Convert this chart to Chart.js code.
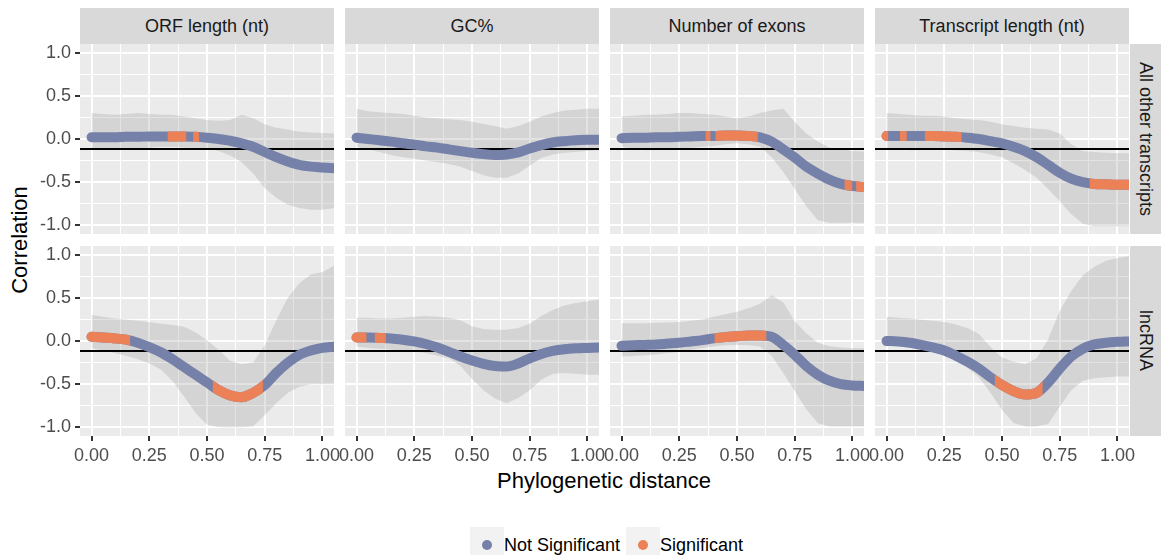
<!DOCTYPE html>
<html>
<head>
<meta charset="utf-8">
<script src="https://cdn.jsdelivr.net/npm/chart.js@4.4.0/dist/chart.umd.min.js"></script>
<style>
  body { margin: 0; width: 1162px; height: 555px; position: relative; overflow: hidden; background: #fff;
         font-family: "Liberation Sans", Arial, Helvetica, sans-serif; }
  canvas { position: absolute; }
  .strip { position: absolute; background: #d9d9d9; color: #1a1a1a; font-size: 18px;
           display: flex; align-items: center; justify-content: center; white-space: nowrap; }
  .strip.side span { writing-mode: vertical-rl; }
  .title { position: absolute; font-size: 22px; color: #000; white-space: nowrap; transform: translate(-50%, -50%); }
  #ytitle { transform: translate(-50%, -50%) rotate(-90deg); }
  .key { position: absolute; top: 527px; width: 34px; height: 35px; background: #f2f2f2; }
  .key i { position: absolute; left: 12px; top: 13px; width: 10px; height: 10px; border-radius: 50%; }
  .lab { position: absolute; top: 535px; font-size: 18px; color: #000; white-space: nowrap; }
</style>
</head>
<body>
<div id="ytitle" class="title" style="left:20px;top:240px">Correlation</div>
<div id="xtitle" class="title" style="left:604px;top:481px">Phylogenetic distance</div>

<script>
/* ── DATA ───────────────────────────────────────────────────── */
const features = ['ORF length (nt)', 'GC%', 'Number of exons', 'Transcript length (nt)'];
const groups   = ['All other transcripts', 'lncRNA'];
const legendLabels = ['Not Significant', 'Significant'];

const distance = [0, 0.05, 0.1, 0.15, 0.2, 0.25, 0.3, 0.35, 0.4, 0.45, 0.5, 0.55,
                  0.6, 0.65, 0.7, 0.75, 0.8, 0.85, 0.9, 0.95, 1, 1.05];

const xTicks      = [0, 0.25, 0.5, 0.75, 1];
const xTickLabels = ['0.00', '0.25', '0.50', '0.75', '1.00'];
const xMinor      = [0.125, 0.375, 0.625, 0.875];
const yTicks      = [-1, -0.5, 0, 0.5, 1];
const yTickLabels = ['-1.0', '-0.5', '0.0', '0.5', '1.0'];
const yMinor      = [-0.75, -0.25, 0.25, 0.75];
const xRange = [-0.05, 1.05];
const yRange = [-1.1, 1.1];
const refLine = -0.115;

// All other transcripts
const orfOtherFit = [0.02, 0.02, 0.02, 0.025, 0.025, 0.03, 0.03, 0.03, 0.03, 0.025, 0.015, 0.0, -0.02, -0.05, -0.09, -0.15, -0.21, -0.26, -0.30, -0.32, -0.33, -0.34];
const orfOtherHi  = [0.30, 0.29, 0.28, 0.29, 0.30, 0.29, 0.28, 0.28, 0.26, 0.24, 0.22, 0.21, 0.22, 0.28, 0.24, 0.17, 0.13, 0.11, 0.085, 0.075, 0.07, 0.065];
const orfOtherLo  = [-0.11, -0.12, -0.13, -0.12, -0.11, -0.10, -0.09, -0.09, -0.10, -0.10, -0.11, -0.14, -0.19, -0.27, -0.40, -0.57, -0.68, -0.76, -0.80, -0.82, -0.82, -0.80];
const orfOtherSig = [[0.33, 0.41], [0.44, 0.465]];

const gcOtherFit = [0.015, 0.0, -0.015, -0.03, -0.05, -0.065, -0.085, -0.10, -0.12, -0.14, -0.16, -0.175, -0.185, -0.18, -0.155, -0.11, -0.07, -0.04, -0.025, -0.015, -0.01, -0.01];
const gcOtherHi  = [0.35, 0.32, 0.31, 0.30, 0.29, 0.27, 0.25, 0.24, 0.23, 0.22, 0.20, 0.175, 0.15, 0.12, 0.15, 0.20, 0.26, 0.30, 0.33, 0.34, 0.35, 0.35];
const gcOtherLo  = [-0.09, -0.12, -0.15, -0.185, -0.21, -0.23, -0.25, -0.27, -0.29, -0.32, -0.37, -0.42, -0.45, -0.45, -0.40, -0.31, -0.22, -0.18, -0.16, -0.15, -0.14, -0.13];
const gcOtherSig = [];

const exonsOtherFit = [0.01, 0.015, 0.015, 0.02, 0.02, 0.025, 0.03, 0.035, 0.035, 0.04, 0.04, 0.035, 0.02, -0.03, -0.12, -0.215, -0.32, -0.40, -0.47, -0.52, -0.545, -0.555];
const exonsOtherHi  = [0.26, 0.27, 0.28, 0.28, 0.29, 0.30, 0.30, 0.29, 0.28, 0.26, 0.24, 0.26, 0.30, 0.33, 0.35, 0.20, 0.065, -0.03, -0.10, -0.12, -0.14, -0.145];
const exonsOtherLo  = [-0.09, -0.11, -0.13, -0.13, -0.12, -0.11, -0.10, -0.09, -0.08, -0.06, -0.05, -0.06, -0.09, -0.21, -0.38, -0.58, -0.78, -0.94, -0.97, -0.97, -0.97, -0.97];
const exonsOtherSig = [[0.364, 0.385], [0.407, 0.59], [0.966, 0.999], [1.016, 1.05]];

const lengthOtherFit = [0.035, 0.035, 0.035, 0.035, 0.035, 0.03, 0.025, 0.015, 0.0, -0.025, -0.05, -0.09, -0.14, -0.21, -0.30, -0.39, -0.46, -0.50, -0.52, -0.525, -0.53, -0.53];
const lengthOtherHi  = [0.30, 0.29, 0.28, 0.27, 0.27, 0.26, 0.24, 0.23, 0.22, 0.20, 0.17, 0.15, 0.13, 0.12, 0.11, 0.065, -0.06, -0.14, -0.15, -0.16, -0.165, -0.165];
const lengthOtherLo  = [-0.11, -0.12, -0.13, -0.13, -0.12, -0.12, -0.13, -0.14, -0.15, -0.18, -0.21, -0.28, -0.36, -0.45, -0.58, -0.72, -0.87, -0.98, -1.01, -1.01, -1.01, -1.01];
const lengthOtherSig = [[-0.05, 0.007], [0.058, 0.087], [0.166, 0.325], [0.88, 1.05]];

// lncRNA
const orfLncFit = [0.05, 0.04, 0.03, 0.015, -0.02, -0.07, -0.13, -0.21, -0.30, -0.39, -0.48, -0.57, -0.63, -0.65, -0.60, -0.51, -0.37, -0.25, -0.16, -0.11, -0.08, -0.065];
const orfLncHi  = [0.30, 0.28, 0.26, 0.25, 0.235, 0.22, 0.20, 0.185, 0.165, 0.10, 0.01, -0.10, -0.23, -0.27, -0.25, -0.05, 0.24, 0.50, 0.67, 0.77, 0.80, 0.87];
const orfLncLo  = [-0.085, -0.11, -0.14, -0.17, -0.21, -0.26, -0.33, -0.46, -0.64, -0.83, -0.97, -1.0, -1.0, -1.0, -0.99, -0.86, -0.72, -0.60, -0.53, -0.50, -0.50, -0.50];
const orfLncSig = [[-0.05, 0.167], [0.525, 0.742]];

const gcLncFit = [0.04, 0.04, 0.035, 0.03, 0.015, -0.005, -0.035, -0.075, -0.125, -0.18, -0.225, -0.265, -0.29, -0.295, -0.26, -0.20, -0.15, -0.115, -0.095, -0.085, -0.08, -0.075];
const gcLncHi  = [0.27, 0.27, 0.26, 0.26, 0.27, 0.28, 0.29, 0.28, 0.27, 0.24, 0.17, 0.14, 0.13, 0.13, 0.15, 0.20, 0.29, 0.36, 0.41, 0.44, 0.46, 0.48];
const gcLncLo  = [-0.065, -0.08, -0.09, -0.10, -0.11, -0.12, -0.14, -0.17, -0.20, -0.29, -0.44, -0.57, -0.67, -0.72, -0.66, -0.57, -0.45, -0.38, -0.37, -0.38, -0.39, -0.39];
const gcLncSig = [[-0.05, 0.043], [0.079, 0.127]];

const exonsLncFit = [-0.055, -0.05, -0.045, -0.04, -0.03, -0.02, -0.005, 0.01, 0.03, 0.045, 0.055, 0.065, 0.065, 0.05, -0.045, -0.16, -0.29, -0.39, -0.46, -0.50, -0.515, -0.52];
const exonsLncHi  = [0.205, 0.205, 0.205, 0.21, 0.215, 0.22, 0.235, 0.25, 0.28, 0.31, 0.34, 0.38, 0.43, 0.53, 0.45, 0.23, 0.09, -0.02, -0.06, -0.075, -0.085, -0.085];
const exonsLncLo  = [-0.18, -0.175, -0.165, -0.155, -0.14, -0.125, -0.10, -0.08, -0.065, -0.05, -0.045, -0.05, -0.065, -0.17, -0.37, -0.58, -0.79, -0.95, -0.99, -0.99, -0.99, -0.99];
const exonsLncSig = [[0.403, 0.627]];

const lengthLncFit = [0.0, -0.005, -0.02, -0.045, -0.075, -0.11, -0.17, -0.24, -0.32, -0.42, -0.51, -0.58, -0.62, -0.60, -0.48, -0.32, -0.18, -0.09, -0.04, -0.02, -0.01, -0.005];
const lengthLncHi  = [0.28, 0.27, 0.26, 0.245, 0.235, 0.22, 0.19, 0.15, 0.08, -0.07, -0.19, -0.24, -0.27, -0.20, 0.02, 0.35, 0.58, 0.76, 0.86, 0.93, 0.96, 0.98];
const lengthLncLo  = [-0.045, -0.055, -0.065, -0.10, -0.13, -0.16, -0.22, -0.31, -0.42, -0.60, -0.80, -0.95, -0.99, -0.99, -0.96, -0.76, -0.57, -0.46, -0.43, -0.42, -0.41, -0.41];
const lengthLncSig = [[0.469, 0.676]];

/* ── LAYOUT & STYLE ─────────────────────────────────────────── */
const FONT = '"Liberation Sans", Arial, Helvetica, sans-serif';
const NS_COL  = '#7581a9';
const SIG_COL = '#ec8158';
const RIBBON  = 'rgba(153,153,153,0.27)';
const PANEL_LEFT = [80, 345, 610, 875];
const PANEL_TOP  = [44, 246];
const PANEL_W = 254, PANEL_H = 190;

const panels = [
  { row: 0, col: 0, fit: orfOtherFit,    hi: orfOtherHi,    lo: orfOtherLo,    sig: orfOtherSig },
  { row: 0, col: 1, fit: gcOtherFit,     hi: gcOtherHi,     lo: gcOtherLo,     sig: gcOtherSig },
  { row: 0, col: 2, fit: exonsOtherFit,  hi: exonsOtherHi,  lo: exonsOtherLo,  sig: exonsOtherSig },
  { row: 0, col: 3, fit: lengthOtherFit, hi: lengthOtherHi, lo: lengthOtherLo, sig: lengthOtherSig },
  { row: 1, col: 0, fit: orfLncFit,      hi: orfLncHi,      lo: orfLncLo,      sig: orfLncSig },
  { row: 1, col: 1, fit: gcLncFit,       hi: gcLncHi,       lo: gcLncLo,       sig: gcLncSig },
  { row: 1, col: 2, fit: exonsLncFit,    hi: exonsLncHi,    lo: exonsLncLo,    sig: exonsLncSig },
  { row: 1, col: 3, fit: lengthLncFit,   hi: lengthLncHi,   lo: lengthLncLo,   sig: lengthLncSig },
];

/* ── PLUGINS ────────────────────────────────────────────────── */
const panelBg = {
  id: 'panelBg',
  beforeDraw(chart) {
    const { ctx, chartArea: a } = chart;
    ctx.save();
    ctx.fillStyle = '#ebebeb';
    ctx.fillRect(a.left, a.top, a.width, a.height);
    ctx.restore();
  },
};

// orange copy of the curve is only shown where the fit is significant
function sigClip(ranges) {
  return {
    id: 'sigClip',
    beforeDatasetDraw(chart, args) {
      if (args.index !== 0) return;
      const { ctx, chartArea: a, scales: { x } } = chart;
      ctx.save();
      ctx.beginPath();
      ranges.forEach(([from, to]) => {
        const x1 = x.getPixelForValue(from), x2 = x.getPixelForValue(to);
        ctx.rect(x1, a.top, x2 - x1, a.height);
      });
      ctx.clip();
    },
    afterDatasetDraw(chart, args) {
      if (args.index === 0) chart.ctx.restore();
    },
  };
}

/* ── AXES ───────────────────────────────────────────────────── */
function axisOpts(dir, labelled, size) {
  const major  = dir === 'x' ? xTicks : yTicks;
  const minor  = dir === 'x' ? xMinor : yMinor;
  const labels = dir === 'x' ? xTickLabels : yTickLabels;
  const range  = dir === 'x' ? xRange : yRange;
  const isMajor = c => c.tick && major.includes(c.tick.value);
  return {
    type: 'linear',
    min: range[0],
    max: range[1],
    afterBuildTicks: s => {
      s.ticks = major.concat(minor).sort((a, b) => a - b).map(v => ({ value: v }));
    },
    afterFit: s => {
      if (dir === 'x') s.height = size; else s.width = size;
      s.paddingLeft = s.paddingRight = s.paddingTop = s.paddingBottom = 0;
    },
    border: { display: false },
    grid: {
      color: '#ffffff',
      lineWidth: c => isMajor(c) ? 2 : 1,
      drawTicks: labelled,
      tickLength: 5,
      tickWidth: 2,
      tickColor: c => isMajor(c) ? '#333333' : 'rgba(0,0,0,0)',
    },
    ticks: {
      display: labelled,
      autoSkip: false,
      maxRotation: 0,
      minRotation: 0,
      padding: 4,
      color: '#4d4d4d',
      font: { family: FONT, size: 18 },
      callback: v => {
        const i = major.indexOf(v);
        return i < 0 ? '' : labels[i];
      },
    },
  };
}

/* ── PANELS ─────────────────────────────────────────────────── */
function makePanel(p) {
  const first = p.col === 0, bottom = p.row === 1;
  const padL = first ? 0 : 20, padR = 20;
  const axisW = first ? PANEL_LEFT[0] : 0;
  const axisH = bottom ? 40 : 0;

  const cv = document.createElement('canvas');
  cv.width = padL + axisW + PANEL_W + padR;
  cv.height = PANEL_H + axisH;
  cv.style.left = (PANEL_LEFT[p.col] - axisW - padL) + 'px';
  cv.style.top = PANEL_TOP[p.row] + 'px';
  document.body.appendChild(cv);

  const pts = ys => distance.map((x, i) => ({ x, y: ys[i] }));
  const curve = col => ({
    data: pts(p.fit),
    borderColor: col,
    borderWidth: 10,
    borderCapStyle: 'round',
    borderJoinStyle: 'round',
    cubicInterpolationMode: 'monotone',
    fill: false,
    clip: 0,
  });

  new Chart(cv, {
    type: 'line',
    data: {
      datasets: [
        curve(SIG_COL),
        curve(NS_COL),
        { data: [{ x: xRange[0], y: refLine }, { x: xRange[1], y: refLine }],
          borderColor: '#000000', borderWidth: 2, fill: false, clip: 0 },
        { data: pts(p.hi), borderColor: 'rgba(0,0,0,0)', borderWidth: 0,
          backgroundColor: RIBBON, fill: '+1', clip: 0 },
        { data: pts(p.lo), borderColor: 'rgba(0,0,0,0)', borderWidth: 0, fill: false, clip: 0 },
      ],
    },
    options: {
      animation: false,
      responsive: false,
      devicePixelRatio: 1,
      events: [],
      layout: { padding: { left: padL, right: padR, top: 0, bottom: 0 } },
      elements: { point: { radius: 0 } },
      plugins: { legend: { display: false }, tooltip: { enabled: false } },
      scales: {
        x: axisOpts('x', bottom, axisH),
        y: axisOpts('y', first, axisW),
      },
    },
    plugins: [panelBg, sigClip(p.sig)],
  });
}

/* ── STRIPS & LEGEND ────────────────────────────────────────── */
function addDiv(cls, css, html) {
  const el = document.createElement('div');
  el.className = cls;
  el.style.cssText = css;
  el.innerHTML = html;
  document.body.appendChild(el);
  return el;
}

features.forEach((f, c) => {
  addDiv('strip', `left:${PANEL_LEFT[c]}px;top:8px;width:${PANEL_W}px;height:36px`, f);
});
groups.forEach((g, r) => {
  addDiv('strip side', `left:1130px;top:${PANEL_TOP[r]}px;width:31px;height:${PANEL_H}px`, `<span>${g}</span>`);
});

addDiv('key', 'left:470px', `<i style="background:${NS_COL}"></i>`);
addDiv('lab', 'left:504px', legendLabels[0]);
addDiv('key', 'left:626px', `<i style="background:${SIG_COL}"></i>`);
addDiv('lab', 'left:660px', legendLabels[1]);

/* ── INIT ───────────────────────────────────────────────────── */
panels.forEach(makePanel);
</script>
</body>
</html>
